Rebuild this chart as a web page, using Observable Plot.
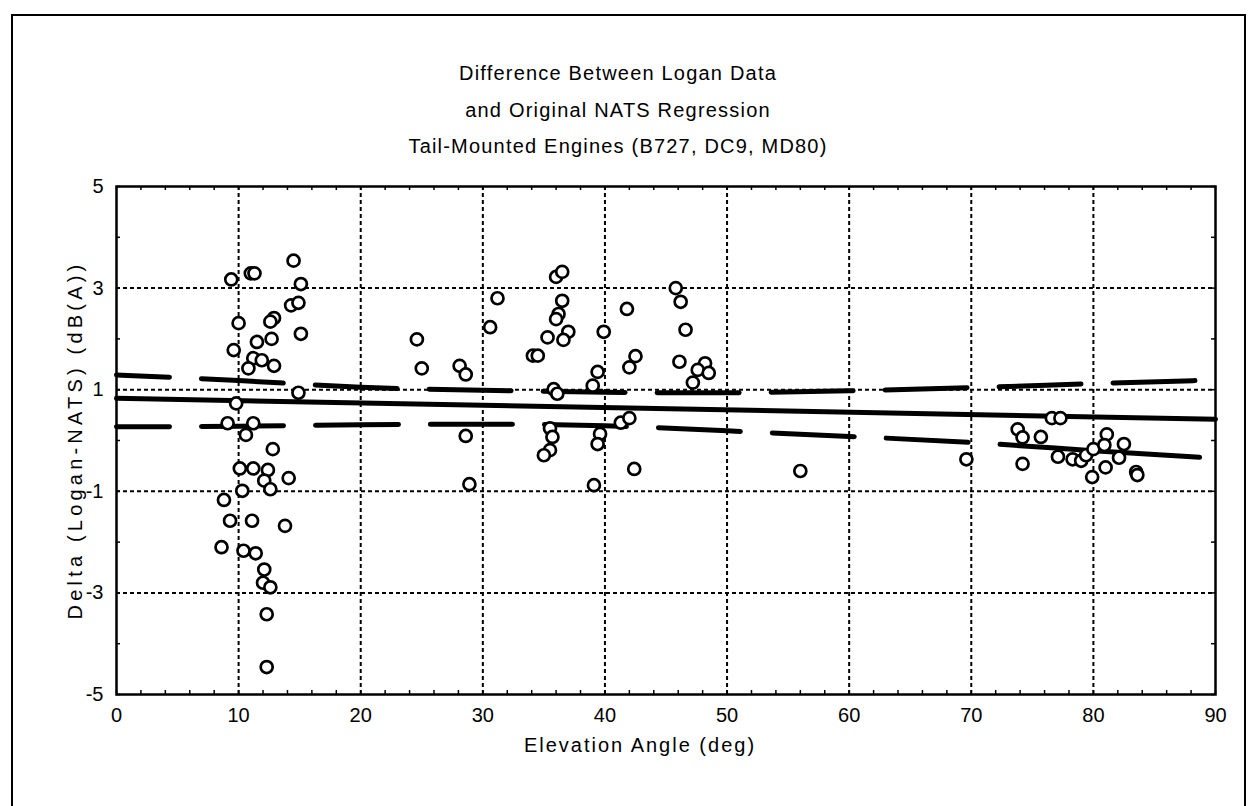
<!DOCTYPE html>
<html>
<head>
<meta charset="utf-8">
<script src="https://cdn.jsdelivr.net/npm/d3@7"></script>
<script src="https://cdn.jsdelivr.net/npm/@observablehq/plot@0.6"></script>
<style>
  html, body { margin: 0; padding: 0; background: #fff; }
  #wrap { position: relative; width: 1253px; height: 806px; overflow: hidden; font-family: "Liberation Sans", Arial, sans-serif; color: #000; }
  #border { position: absolute; left: 11px; top: 14px; width: 1235px; height: 820px; border: 2px solid #000; box-sizing: border-box; }
  .t { position: absolute; width: 800px; text-align: center; font-size: 20px; letter-spacing: 1.2px; white-space: nowrap; }
  #ylab { position: absolute; left: 75px; top: 440px; transform: translate(-50%, -50%) rotate(-90deg); font-size: 20px; letter-spacing: 4.2px; white-space: nowrap; }
  #chart { position: absolute; left: 0; top: 0; }
</style>
</head>
<body>
<div id="wrap">
  <div id="border"></div>
  <div id="chart"></div>
  <div class="t" style="left:218px; top:62px">Difference Between Logan Data</div>
  <div class="t" style="left:218px; top:99px">and Original NATS Regression</div>
  <div class="t" style="left:218px; top:135px">Tail-Mounted Engines (B727, DC9, MD80)</div>
  <div class="t" style="left:240px; top:734px; letter-spacing:2px">Elevation Angle (deg)</div>
  <div id="ylab">Delta (Logan-NATS) (dB(A))</div>
</div>
<script>
// Observed differences: elevation angle (deg) and delta (dB(A))
const elevation = [
  14.5, 11.0, 11.3, 9.4, 15.1, 14.3, 14.9, 10.0, 12.9, 12.6, 15.1, 11.5, 12.7, 9.6, 11.2, 11.9, 12.9, 10.8,
  14.9, 9.8, 9.1, 11.2, 10.6, 12.8, 10.1, 11.2, 12.4, 12.1, 14.1, 12.6, 10.3, 8.8, 9.3, 11.1, 13.8,
  8.6, 10.4, 11.4, 12.1, 12.0, 12.6, 12.3, 12.3,
  24.6, 25.0, 28.1, 28.6, 28.6, 28.9, 30.6, 31.2, 34.1, 34.5, 35.3, 36.0, 36.5, 36.5, 36.2, 36.0,
  37.0, 36.6, 35.8, 36.1, 35.5, 35.7, 35.5, 35.0, 39.9, 39.4, 39.0, 39.6, 39.4, 39.1,
  41.8, 42.5, 42.0, 41.3, 42.0, 42.4, 45.8, 46.2, 46.6, 46.1, 48.2, 47.6, 48.5, 47.2,
  56.0, 69.6, 73.8, 74.2, 75.7, 74.2, 76.6, 77.3, 77.1, 78.3, 79.0, 79.4, 80.0, 79.9,
  81.1, 80.9, 82.5, 82.1, 81.0, 83.5, 83.6
];
const delta = [
  3.54, 3.29, 3.29, 3.17, 3.08, 2.66, 2.71, 2.31, 2.41, 2.34, 2.10, 1.94, 2.00, 1.78, 1.62, 1.58, 1.47, 1.42,
  0.94, 0.73, 0.34, 0.34, 0.11, -0.17, -0.55, -0.55, -0.58, -0.79, -0.74, -0.96, -0.99, -1.17, -1.58, -1.58, -1.68,
  -2.10, -2.17, -2.22, -2.54, -2.80, -2.89, -3.42, -4.46,
  1.99, 1.42, 1.47, 1.30, 0.09, -0.86, 2.23, 2.80, 1.67, 1.67, 2.03, 3.22, 3.32, 2.75, 2.49, 2.39,
  2.14, 1.98, 1.01, 0.92, 0.24, 0.07, -0.19, -0.29, 2.14, 1.35, 1.08, 0.13, -0.07, -0.88,
  2.59, 1.66, 1.44, 0.35, 0.44, -0.56, 3.00, 2.73, 2.18, 1.55, 1.52, 1.39, 1.33, 1.14,
  -0.60, -0.37, 0.22, 0.06, 0.07, -0.46, 0.44, 0.44, -0.32, -0.37, -0.40, -0.29, -0.17, -0.72,
  0.12, -0.09, -0.07, -0.34, -0.53, -0.62, -0.68
];

// Regression line and its confidence band
const regX = [0, 90];
const regY = [0.83, 0.42];
const bandX = [0, 10, 20, 30, 40, 50, 60, 70, 80, 90];
const bandUpper = [1.29, 1.18, 1.05, 0.99, 0.95, 0.94, 0.98, 1.04, 1.12, 1.19];
const bandLower = [0.27, 0.28, 0.31, 0.32, 0.29, 0.19, 0.08, -0.04, -0.20, -0.35];

// Axis ticks
const xTicks = [0, 10, 20, 30, 40, 50, 60, 70, 80, 90];
const yTicks = [5, 3, 1, -1, -3, -5];
const xGrid = [10, 20, 30, 40, 50, 60, 70, 80];
const yGrid = [3, 1, -1, -3];
const xMinor = d3.range(0, 91, 2);
const yMinor = d3.range(-5, 6, 1);

const points = elevation.map((e, i) => ({x: e, y: delta[i]}));
const reg = regX.map((x, i) => ({x, y: regY[i]}));
const upper = bandX.map((x, i) => ({x, y: bandUpper[i]}));
const lower = bandX.map((x, i) => ({x, y: bandLower[i]}));

const W = 1253, H = 806;
const mt = 186, mb = 112, ml = 116, mr = 38;
const fh = H - mt - mb, fw = W - ml - mr;

const chart = Plot.plot({
  width: W,
  height: H,
  marginTop: mt,
  marginBottom: mb,
  marginLeft: ml,
  marginRight: mr,
  style: {fontFamily: "'Liberation Sans', Arial, sans-serif", fontSize: "20px", color: "#000", background: "transparent", overflow: "visible"},
  x: {domain: [0, 90]},
  y: {domain: [-5, 5]},
  marks: [
    Plot.gridX(xGrid, {stroke: "#000", strokeOpacity: 1, strokeWidth: 2, strokeDasharray: "4,3"}),
    Plot.gridY(yGrid, {stroke: "#000", strokeOpacity: 1, strokeWidth: 2, strokeDasharray: "4,3"}),
    Plot.tickX(xMinor, {x: d => d, stroke: "#000", strokeWidth: 1.5, insetTop: fh - 4}),
    Plot.tickX(xMinor, {x: d => d, stroke: "#000", strokeWidth: 1.5, insetBottom: fh - 4}),
    Plot.tickY(yMinor, {y: d => d, stroke: "#000", strokeWidth: 1.5, insetRight: fw - 4}),
    Plot.tickY(yMinor, {y: d => d, stroke: "#000", strokeWidth: 1.5, insetLeft: fw - 4}),
    Plot.line(upper, {x: "x", y: "y", curve: "natural", stroke: "#000", strokeWidth: 5, strokeDasharray: "82,32", strokeDashoffset: 29}),
    Plot.line(lower, {x: "x", y: "y", curve: "natural", stroke: "#000", strokeWidth: 5, strokeDasharray: "53,32,82,32,83,32,82,32,82,32,82,32,82,32,82,32,200,600"}),
    Plot.line(reg, {x: "x", y: "y", stroke: "#000", strokeWidth: 5}),
    Plot.dot(points, {x: "x", y: "y", r: 6, stroke: "#000", strokeWidth: 2.7, fill: "#fff"}),
    Plot.frame({stroke: "#000", strokeWidth: 2.5}),
    Plot.axisX(xTicks, {anchor: "bottom", label: null, tickSize: 0, tickPadding: 13, fontSize: 20, tickFormat: d => String(d)}),
    Plot.axisY(yTicks, {anchor: "left", label: null, tickSize: 0, tickPadding: 13, fontSize: 20, tickFormat: d => String(d)})
  ]
});
document.getElementById("chart").appendChild(chart);
</script>
</body>
</html>
